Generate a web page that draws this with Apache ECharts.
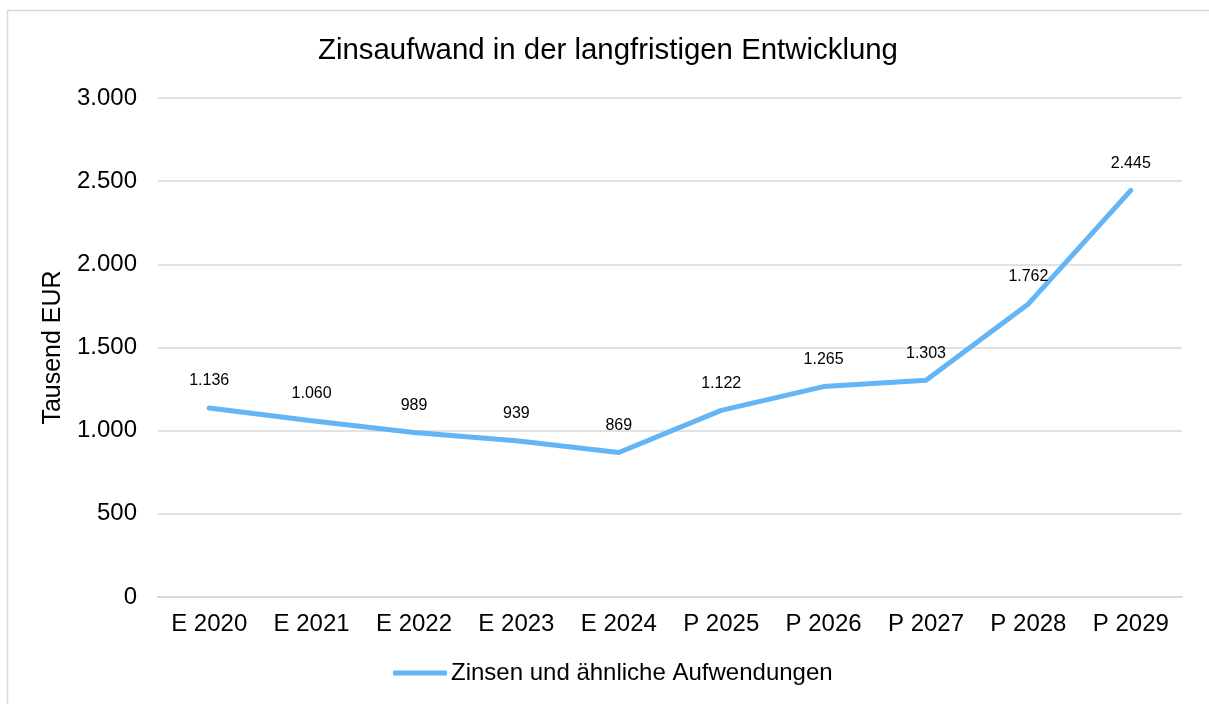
<!DOCTYPE html>
<html>
<head>
<meta charset="utf-8">
<script src="https://cdn.jsdelivr.net/npm/echarts@6/dist/echarts.min.js"></script>
<style>
  html, body { margin: 0; padding: 0; background: #fff; }
  #chart { width: 1209px; height: 704px; }
</style>
</head>
<body>
<div id="chart"></div>
<script>
// Jahre (E = Ergebnis, P = Plan)
const years = ['E 2020', 'E 2021', 'E 2022', 'E 2023', 'E 2024', 'P 2025', 'P 2026', 'P 2027', 'P 2028', 'P 2029'];
// Zinsen und ähnliche Aufwendungen, Tausend EUR
const zinsen = [1136, 1060, 989, 939, 869, 1122, 1265, 1303, 1762, 2445];
const seriesName = 'Zinsen und ähnliche Aufwendungen';

// deutsches Tausendertrennzeichen
function fmt(v) {
  return String(v).replace(/\B(?=(\d{3})+(?!\d))/g, '.');
}

const font = 'Liberation Sans, Arial, sans-serif';
let myChart = echarts.init(document.getElementById('chart'));
let option = {
  animation: false,
  textStyle: { fontFamily: font },
  title: {
    text: 'Zinsaufwand in der langfristigen Entwicklung',
    left: 313,
    top: 31,
    textStyle: { fontFamily: font, fontSize: 29.4, fontWeight: 'normal', color: '#000' }
  },
  graphic: [{
    type: 'rect',
    shape: { x: 7.5, y: 10.5, width: 1230, height: 730 },
    style: { fill: 'none', stroke: '#d9d9d9', lineWidth: 1.5 },
    silent: true
  }],
  legend: {
    bottom: 14,
    left: 388,
    icon: 'roundRect',
    itemWidth: 54,
    itemHeight: 5,
    itemGap: 3,
    textStyle: { fontFamily: font, fontSize: 24, color: '#000', padding: [0, 0, 0, -1] },
    data: [seriesName]
  },
  grid: { left: 158, right: 27, top: 98, bottom: 107 },
  xAxis: {
    type: 'category',
    data: years,
    axisLine: { lineStyle: { color: '#d9d9d9', width: 2 } },
    axisTick: { show: false },
    axisLabel: { fontFamily: font, fontSize: 24, color: '#000', margin: 15 }
  },
  yAxis: {
    type: 'value',
    min: 0,
    max: 3000,
    interval: 500,
    name: 'Tausend EUR',
    nameLocation: 'middle',
    nameGap: 88,
    nameTextStyle: { fontFamily: font, fontSize: 25, color: '#000' },
    axisLine: { show: false },
    axisTick: { show: false },
    splitLine: { lineStyle: { color: '#d9d9d9', width: 1.5 } },
    axisLabel: { fontFamily: font, fontSize: 24, color: '#000', margin: 21, formatter: v => fmt(v) }
  },
  series: [{
    name: seriesName,
    type: 'line',
    data: zinsen,
    symbol: 'circle',
    symbolSize: 0.1,
    showSymbol: true,
    lineStyle: { color: '#63b5f5', width: 5, cap: 'round', join: 'round' },
    itemStyle: { color: '#63b5f5' },
    label: {
      show: true,
      position: 'top',
      distance: 19,
      fontFamily: font,
      fontSize: 16,
      color: '#000',
      formatter: p => fmt(p.value)
    }
  }]
};
myChart.setOption(option);
</script>
</body>
</html>
